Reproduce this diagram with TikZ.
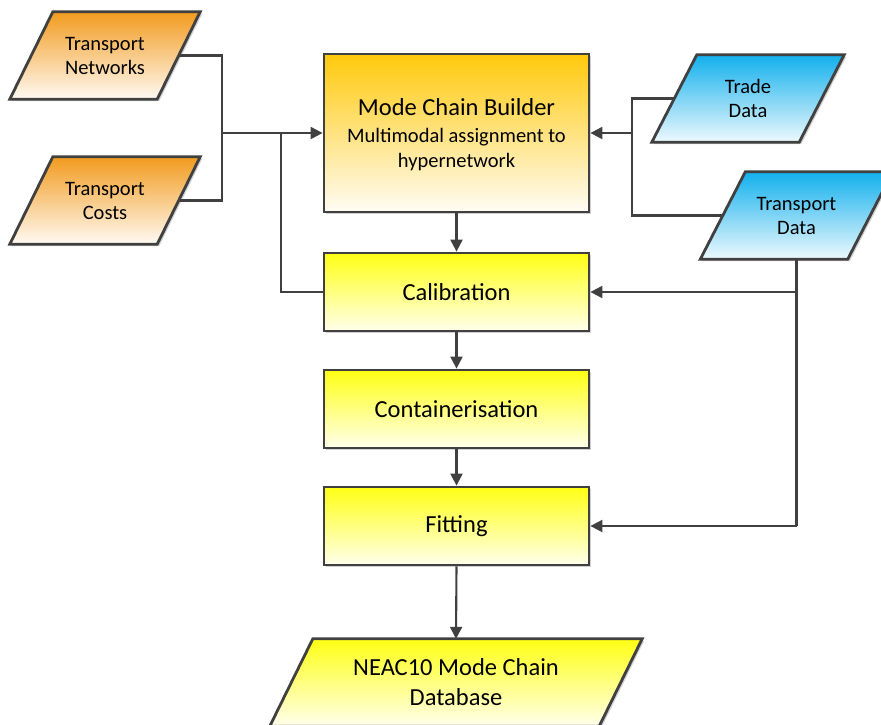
\documentclass[tikz,border=0pt]{standalone}
\usepackage{fontspec}
\setmainfont{Carlito}
\usetikzlibrary{arrows.meta,shadows,backgrounds}

\definecolor{lineclr}{HTML}{404040}
\definecolor{orangetop}{HTML}{F29B1E}
\definecolor{orangebot}{HTML}{FFFAF3}
\definecolor{goldtop}{HTML}{FFC90C}
\definecolor{goldbot}{HTML}{FFFCF4}
\definecolor{yellowtop}{HTML}{FFFF14}
\definecolor{yellowbot}{HTML}{FFFFEC}
\definecolor{bluetop}{HTML}{12B0EC}
\definecolor{bluebot}{HTML}{EEF9FE}

\tikzset{
  shade/.style={drop shadow={shadow xshift=2pt, shadow yshift=-2pt, opacity=0.18, fill=black}},
  % text holder of a slanted data block; its width is the length of the top/bottom sides
  dataio/.style={rectangle, minimum height=87pt, minimum width=147pt, inner sep=0pt,
    align=center, font=\fontsize{20.5}{24}\selectfont},
  outline/.style={draw=lineclr, line width=2.8pt, line join=miter},
  procbox/.style={rectangle, outline, minimum width=265pt,
    inner sep=0pt, shade, align=center, font=\fontsize{24.5}{29}\selectfont},
  stage/.style={procbox, minimum height=78pt, top color=yellowtop, bottom color=yellowbot},
  conn/.style={draw=lineclr, line width=2.1pt},
  flow/.style={conn, -{Triangle[length=12pt, width=12pt]}},
}

% slanted outline behind a data block: #1 node, #2/#3 shading colours, #4 half slant
\newcommand{\ioplate}[4]{%
  \path[outline, shade, top color=#2, bottom color=#3]
    ([xshift=#4]#1.north west) -- ([xshift=#4]#1.north east)
    -- ([xshift=-#4]#1.south east) -- ([xshift=-#4]#1.south west) -- cycle;}

\begin{document}
\begin{tikzpicture}[x=1pt, y=-1pt]
\useasboundingbox (0,0) rectangle (881,724);

% input data
\node[dataio] (tn) at (105,55.5) {Transport\\Networks};
\node[dataio] (tc) at (105,200.5) {Transport\\Costs};
\node[dataio] (trade) at (748,98.5) {Trade\\Data};
\node[dataio] (tdata) at (796.5,215.5) {Transport\\Data};

% processing chain
\node[procbox, minimum height=158pt, top color=goldtop, bottom color=goldbot] (mcb) at (456.5,133) {};
\node[align=center, inner sep=0pt, font=\fontsize{24.5}{29}\selectfont] (mcbtext) at (456.5,135)
  {Mode Chain Builder\\[-2pt]{\fontsize{20.5}{24}\selectfont Multimodal assignment to}\\[-4pt]{\fontsize{20.5}{24}\selectfont hypernetwork}};
\node[stage] (cal) at (456.5,292) {Calibration};
\node[stage] (cont) at (456.5,409) {Containerisation};
\node[stage] (fit) at (456.5,526) {Fitting};

% output
\node[dataio, minimum width=329pt, font=\fontsize{24.5}{30}\selectfont] (out) at (456,682.5)
  {NEAC10 Mode Chain\\Database};

\begin{scope}[on background layer]
  \ioplate{tn}{orangetop}{orangebot}{21.5pt}
  \ioplate{tc}{orangetop}{orangebot}{21.5pt}
  \ioplate{trade}{bluetop}{bluebot}{22.5pt}
  \ioplate{tdata}{bluetop}{bluebot}{22.5pt}
  \ioplate{out}{yellowtop}{yellowbot}{21.5pt}
\end{scope}

% junctions
\coordinate (jl) at (222,133);
\coordinate (jf) at (281,133);
\coordinate (jr) at (632,133);
\coordinate (jd) at (tdata.south |- fit.east);

% left inputs
\draw[conn] (tn.east) -| (jl);
\draw[conn] (tc.east) -| (jl);
\draw[flow] (jl) -- (mcb.west);
\draw[conn] (cal.west) -| (jf);

% right inputs
\draw[conn] (trade.west) -| (jr);
\draw[conn] (tdata.west) -| (jr);
\draw[flow] (jr) -- (mcb.east);
\draw[conn] (tdata.south) -- (jd);
\draw[flow] (tdata.south |- cal.east) -- (cal.east);
\draw[flow] (jd) -- (fit.east);

% main chain
\draw[flow] (mcb.south) -- (cal.north);
\draw[flow] (cal.south) -- (cont.north);
\draw[flow] (cont.south) -- (fit.north);
\draw[flow] (fit.south) -- (out.north);
\end{tikzpicture}
\end{document}
